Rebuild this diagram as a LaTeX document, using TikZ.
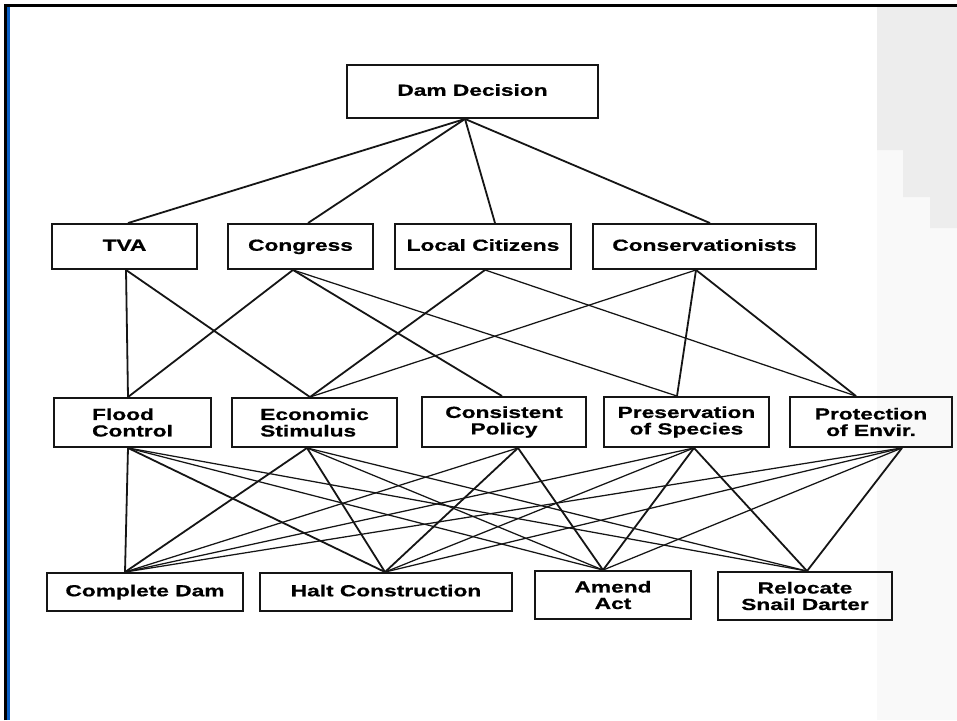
\documentclass[tikz,border=0pt]{standalone}
\usepackage{fontspec}
\newfontfamily\lblfont{Liberation Sans}[FakeStretch=1.42, FakeBold=0.8]
\definecolor{ink}{HTML}{151515}
\definecolor{stripe}{HTML}{0A5FC4}
\begin{document}
\begin{tikzpicture}[x=1pt,y=-1pt,
  box/.style={draw=ink, line width=1.9pt, inner sep=0pt, align=center,
    font={\lblfont\bfseries\fontsize{16}{16.5}\selectfont}},
  one/.style={text height=11.5pt, text depth=3pt},
  link/.style={draw=ink, line width=1.8pt},
  thinlink/.style={draw=ink, line width=1.25pt}]
\useasboundingbox (0,0) rectangle (957,720);
\fill[white] (0,0) rectangle (957,720);
% scan shading at right
\fill[gray!5] (877,150) rectangle (957,720);
\fill[gray!14] (877,7) -- (957,7) -- (957,228) -- (930,228) -- (930,197) -- (903,197) -- (903,150) -- (877,150) -- cycle;
% frame
\fill[stripe] (7,7) rectangle (10,720);
\draw[black, line width=2.6pt] (5.3,720) -- (5.3,5.3) -- (957,5.3);

% top
\node[box, one, minimum width=251pt, minimum height=53pt] (dd) at (472.5,91.5) {Dam Decision};
% stakeholders
\node[box, one, minimum width=145pt, minimum height=45pt] (tva) at (124.5,246.5) {TVA};
\node[box, one, minimum width=145pt, minimum height=45pt] (con) at (300.5,246.5) {Congress};
\node[box, one, minimum width=176pt, minimum height=45pt] (lc) at (483,246.5) {Local Citizens};
\node[box, one, minimum width=223pt, minimum height=45pt] (cv) at (704.5,246.5) {Conservationists};
% objectives
\node[box, align=left, minimum width=157pt, minimum height=49pt] (fc) at (132.5,422.5) {Flood\\Control};
\node[box, align=left, minimum width=165pt, minimum height=49pt] (es) at (314.5,422.5) {Economic\\Stimulus};
\node[box, minimum width=164pt, minimum height=50pt] (cp) at (504,422) {Consistent\\Policy};
\node[box, minimum width=165pt, minimum height=50pt] (ps) at (686.5,422) {Preservation\\of Species};
\node[box, minimum width=162pt, minimum height=50pt] (pe) at (871,422) {Protection\\of Envir.};
% alternatives
\node[box, one, minimum width=196pt, minimum height=38pt] (cd) at (145,592) {Complete Dam};
\node[box, one, minimum width=252pt, minimum height=38pt] (hc) at (386,592) {Halt Construction};
\node[box, minimum width=156pt, minimum height=48pt] (aa) at (613,595) {Amend\\Act};
\node[box, minimum width=174pt, minimum height=48pt] (rs) at (805,596) {Relocate\\Snail Darter};

% connection points
\coordinate (ddB) at ([xshift=-7.5pt]dd.south);
\coordinate (tvaT) at ([xshift=3.5pt]tva.north);
\coordinate (tvaB) at ([xshift=1.5pt]tva.south);
\coordinate (conT) at ([xshift=7.5pt]con.north);
\coordinate (conB) at ([xshift=-7.5pt]con.south);
\coordinate (lcT) at ([xshift=12pt]lc.north);
\coordinate (lcB) at ([xshift=2pt]lc.south);
\coordinate (cvT) at ([xshift=5.5pt]cv.north);
\coordinate (cvB) at ([xshift=-8.5pt]cv.south);
\coordinate (fcT) at ([xshift=-4.5pt]fc.north);
\coordinate (fcB) at ([xshift=-4.5pt]fc.south);
\coordinate (esT) at ([xshift=-4.5pt]es.north);
\coordinate (esB) at ([xshift=-7.5pt]es.south);
\coordinate (cpT) at ([xshift=-2pt]cp.north);
\coordinate (cpB) at ([xshift=14pt]cp.south);
\coordinate (psT) at ([xshift=-9.5pt]ps.north);
\coordinate (psB) at ([xshift=7.5pt]ps.south);
\coordinate (peT) at ([xshift=-15pt]pe.north);
\coordinate (peB) at ([xshift=31pt]pe.south);
\coordinate (cdT) at ([xshift=-20pt]cd.north);
\coordinate (hcT) at ([xshift=-1pt]hc.north);
\coordinate (aaT) at ([xshift=-10pt]aa.north);
\coordinate (rsT) at ([xshift=2pt]rs.north);

% level 1
\draw[link] (ddB) -- (tvaT);
\draw[link] (ddB) -- (conT);
\draw[link] (ddB) -- (lcT);
\draw[link] (ddB) -- (cvT);
% level 2
\draw[link] (tvaB) -- (fcT);
\draw[link] (tvaB) -- (esT);
\draw[link] (conB) -- (fcT);
\draw[link] (conB) -- (cpT);
\draw[thinlink] (conB) -- (psT);
\draw[link] (lcB) -- (esT);
\draw[thinlink] (lcB) -- (peT);
\draw[thinlink] (cvB) -- (esT);
\draw[link] (cvB) -- (psT);
\draw[link] (cvB) -- (peT);
% level 3
\draw[link] (fcB) -- (cdT);
\draw[link] (fcB) -- (hcT);
\draw[thinlink] (fcB) -- (aaT);
\draw[thinlink] (fcB) -- (rsT);
\draw[link] (esB) -- (cdT);
\draw[link] (esB) -- (hcT);
\draw[thinlink] (esB) -- (aaT);
\draw[thinlink] (esB) -- (rsT);
\draw[thinlink] (cpB) -- (cdT);
\draw[link] (cpB) -- (hcT);
\draw[link] (cpB) -- (aaT);
\draw[thinlink] (psB) -- (cdT);
\draw[thinlink] (psB) -- (hcT);
\draw[link] (psB) -- (aaT);
\draw[link] (psB) -- (rsT);
\draw[thinlink] (peB) -- (cdT);
\draw[thinlink] (peB) -- (hcT);
\draw[thinlink] (peB) -- (aaT);
\draw[link] (peB) -- (rsT);
\end{tikzpicture}
\end{document}
